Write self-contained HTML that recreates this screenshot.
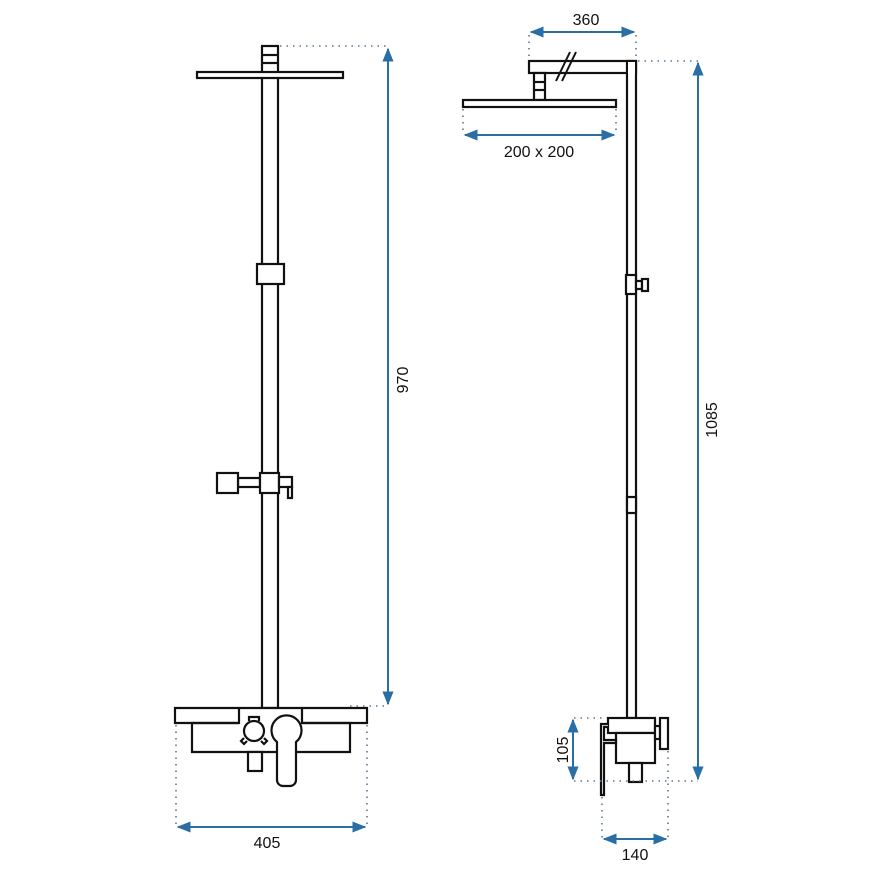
<!DOCTYPE html>
<html><head><meta charset="utf-8"><style>html,body{margin:0;padding:0;background:#fff}svg{display:block}</style></head>
<body>
<svg width="870" height="870" viewBox="0 0 870 870" xmlns="http://www.w3.org/2000/svg" font-family="Liberation Sans, sans-serif">
<defs>
<marker id="a" viewBox="0 0 10 10" refX="9" refY="5" markerWidth="7" markerHeight="7" orient="auto-start-reverse"><path d="M0,1 L10,5 L0,9 Z" fill="#2a6ea6"/></marker>
</defs>
<g fill="#fff" stroke="#111" stroke-width="2.2">
<!-- LEFT VIEW -->
<rect x="262" y="46" width="16" height="662"/>
<line x1="262" y1="55" x2="278" y2="55"/><line x1="262" y1="63" x2="278" y2="63"/>
<rect x="197" y="72" width="146" height="6"/>
<rect x="257" y="264" width="27" height="20"/>
<rect x="238" y="478" width="22" height="9"/>
<rect x="217" y="473" width="21" height="20"/>
<rect x="260" y="473" width="19" height="20"/>
<rect x="279" y="477" width="13" height="10"/>
<rect x="288" y="487" width="4" height="11"/>
<rect x="175" y="708" width="192" height="15" stroke="none"/>
<rect x="192" y="723" width="158" height="29" stroke="none"/>
<path d="M239,723 H192 V752 H350 V723 H302" fill="none"/>
<path d="M239,708 H175 V723 H239 Z M302,708 H367 V723 H302 Z M239,708 H302" fill="none"/>
<rect x="248" y="752" width="14" height="19"/>
<circle cx="254" cy="731" r="10"/>
<path d="M249,721 v-4 h10 v4 M244,738 l-3,3 l3,3 l3,-3 M264,738 l3,3 l-3,3 l-3,-3" fill="none"/>
<path d="M277,742 A15,15 0 1 1 296,742 V780 A6,6 0 0 1 290,786 H283 A6,6 0 0 1 277,780 Z"/>
<!-- RIGHT VIEW -->
<rect x="529" y="61" width="107" height="12"/>
<rect x="627" y="61" width="9" height="657"/>
<rect x="628" y="62" width="7" height="12" stroke="none"/>
<rect x="534" y="73" width="11" height="27"/>
<line x1="534" y1="82" x2="545" y2="82"/><line x1="534" y1="90" x2="545" y2="90"/>
<rect x="463" y="100" width="153" height="7"/>
<rect x="626" y="275" width="10" height="19"/>
<rect x="636" y="281" width="6" height="8"/><rect x="642" y="279" width="6" height="12"/>
<rect x="627" y="497" width="9" height="16"/>
<rect x="608" y="718" width="47" height="15"/>
<rect x="616" y="733" width="39" height="30"/>
<rect x="655" y="726" width="5" height="13"/>
<rect x="660" y="718" width="8" height="31"/>
<rect x="629" y="763" width="13" height="19"/>
<path d="M608,724 H601 V795 H604 V743 H616 V740 H604 V727 H608"/>
</g>
<line x1="556" y1="81" x2="570" y2="52" stroke="#111" stroke-width="2"/>
<line x1="562" y1="81" x2="576" y2="52" stroke="#111" stroke-width="2"/>
<g stroke="#5a7890" stroke-width="1.6" stroke-dasharray="1.5 5" fill="none">
<path d="M280,46 H388 M350,706 H388 M176,725 V825 M367,725 V825"/>
<path d="M529,35 V60 M636,35 V60 M463,109 V133 M616,109 V133 M638,61 H698"/>
<path d="M574,718 H606 M574,781 H698 M602,797 V838 M668,751 V838"/>
</g>
<g stroke="#2a6ea6" stroke-width="2" fill="none">
<line x1="388" y1="49" x2="388" y2="704" marker-start="url(#a)" marker-end="url(#a)"/>
<line x1="178" y1="827" x2="365" y2="827" marker-start="url(#a)" marker-end="url(#a)"/>
<line x1="531" y1="32" x2="634" y2="32" marker-start="url(#a)" marker-end="url(#a)"/>
<line x1="465" y1="135" x2="614" y2="135" marker-start="url(#a)" marker-end="url(#a)"/>
<line x1="698" y1="63" x2="698" y2="779" marker-start="url(#a)" marker-end="url(#a)"/>
<line x1="573" y1="720" x2="573" y2="779" marker-start="url(#a)" marker-end="url(#a)"/>
<line x1="604" y1="839" x2="666" y2="839" marker-start="url(#a)" marker-end="url(#a)"/>
</g>
<g fill="#111" font-size="16" text-anchor="middle">
<text x="267" y="848">405</text>
<text x="586" y="25">360</text>
<text x="539" y="157">200 x 200</text>
<text x="635" y="860">140</text>
<text transform="translate(408,380) rotate(-90)">970</text>
<text transform="translate(717,420) rotate(-90)">1085</text>
<text transform="translate(568,750) rotate(-90)">105</text>
</g>
</svg>
</body></html>
